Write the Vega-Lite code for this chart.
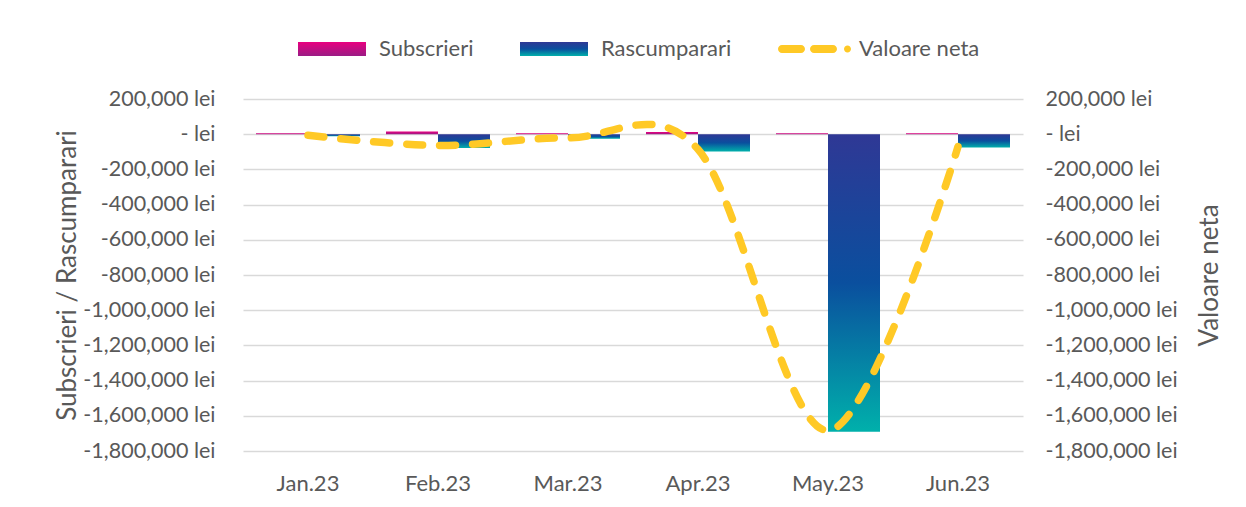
{
  "$schema": "https://vega.github.io/schema/vega-lite/v6.json",
  "width": 780,
  "height": 352,
  "autosize": {"type": "none"},
  "padding": {"left": 243, "top": 99, "right": 223, "bottom": 56},
  "background": "white",
  "config": {
    "view": {"stroke": null},
    "font": "Lato",
    "axis": {"labelFont": "Lato", "titleFont": "Lato"}
  },
  "data": {
    "values": [
      {"month": "Jan.23", "series": "Subscrieri", "value": 6000},
      {"month": "Jan.23", "series": "Rascumparari", "value": -12000},
      {"month": "Jan.23", "series": "Valoare neta", "value": -6000},
      {"month": "Feb.23", "series": "Subscrieri", "value": 15000},
      {"month": "Feb.23", "series": "Rascumparari", "value": -79000},
      {"month": "Feb.23", "series": "Valoare neta", "value": -64000},
      {"month": "Mar.23", "series": "Subscrieri", "value": 5000},
      {"month": "Mar.23", "series": "Rascumparari", "value": -26000},
      {"month": "Mar.23", "series": "Valoare neta", "value": -21000},
      {"month": "Apr.23", "series": "Subscrieri", "value": 12000},
      {"month": "Apr.23", "series": "Rascumparari", "value": -98000},
      {"month": "Apr.23", "series": "Valoare neta", "value": -86000},
      {"month": "May.23", "series": "Subscrieri", "value": 6000},
      {"month": "May.23", "series": "Rascumparari", "value": -1690000},
      {"month": "May.23", "series": "Valoare neta", "value": -1684000},
      {"month": "Jun.23", "series": "Subscrieri", "value": 5000},
      {"month": "Jun.23", "series": "Rascumparari", "value": -76000},
      {"month": "Jun.23", "series": "Valoare neta", "value": -71000}
    ]
  },
  "encoding": {
    "x": {
      "field": "month",
      "type": "nominal",
      "sort": null,
      "scale": {"paddingInner": 0.2, "paddingOuter": 0.1},
      "axis": {
        "title": null,
        "labelAngle": 0,
        "domain": false,
        "ticks": false,
        "grid": false,
        "labelPadding": 22,
        "labelFontSize": 22,
        "labelColor": "#595959"
      }
    }
  },
  "layer": [
    {
      "encoding": {
        "xOffset": {
          "field": "series",
          "type": "nominal",
          "scale": {"domain": ["Subscrieri", "Rascumparari"], "paddingInner": 0, "paddingOuter": 0}
        },
        "y": {
          "field": "value",
          "type": "quantitative",
          "scale": {"domain": [-1800000, 200000], "nice": false, "zero": false},
          "axis": {
            "orient": "left",
            "values": [200000, 0, -200000, -400000, -600000, -800000, -1000000, -1200000, -1400000, -1600000, -1800000],
            "labelExpr": "datum.value == 0 ? '- lei' : replace(format(datum.value, ','), '\u2212', '-') + ' lei'",
            "title": "Subscrieri / Rascumparari",
            "grid": true,
            "gridColor": "#d9d9d9",
            "gridWidth": 1.3,
            "domain": false,
            "ticks": false,
            "labelPadding": 28,
            "labelFontSize": 21.5,
            "labelColor": "#595959",
            "titleFontSize": 26,
            "titleFontWeight": "normal",
            "titleColor": "#595959",
            "titlePadding": 2
          }
        }
      },
      "layer": [
        {
          "transform": [{"filter": "datum.series === 'Subscrieri'"}],
          "mark": {
            "type": "bar",
            "fill": {"gradient": "linear", "x1": 0, "y1": 0, "x2": 0, "y2": 1, "stops": [{"offset": 0, "color": "#e8007f"}, {"offset": 1, "color": "#9a1c85"}]}
          }
        },
        {
          "transform": [{"filter": "datum.series === 'Rascumparari'"}],
          "mark": {
            "type": "bar",
            "fill": {"gradient": "linear", "x1": 0, "y1": 0, "x2": 0, "y2": 1, "stops": [{"offset": 0, "color": "#2f3895"}, {"offset": 0.5, "color": "#0a4f9e"}, {"offset": 1, "color": "#00b0ab"}]}
          }
        }
      ]
    },
    {
      "transform": [{"filter": "datum.series === 'Valoare neta'"}],
      "mark": {"type": "line", "interpolate": "cardinal", "tension": 0, "strokeWidth": 7.5, "strokeCap": "round", "strokeDash": [16, 17]},
      "encoding": {
        "y": {
          "field": "value",
          "type": "quantitative",
          "scale": {"domain": [-1800000, 200000], "nice": false, "zero": false},
          "axis": {
            "orient": "right",
            "values": [200000, 0, -200000, -400000, -600000, -800000, -1000000, -1200000, -1400000, -1600000, -1800000],
            "labelExpr": "datum.value == 0 ? '- lei' : replace(format(datum.value, ','), '\u2212', '-') + ' lei'",
            "title": "Valoare neta",
            "titleAngle": 270,
            "grid": false,
            "domain": false,
            "ticks": false,
            "labelPadding": 22,
            "labelFontSize": 21.5,
            "labelColor": "#595959",
            "titleFontSize": 26,
            "titleFontWeight": "normal",
            "titleColor": "#595959",
            "titlePadding": 45
          }
        },
        "color": {
          "field": "series",
          "type": "nominal",
          "scale": {
            "domain": ["Subscrieri", "Rascumparari", "Valoare neta"],
            "range": ["#e8007f", "#2f3895", "#ffc926"]
          },
          "legend": {
            "orient": "none",
            "legendX": 51,
            "legendY": -61,
            "direction": "horizontal",
            "title": null,
            "padding": 0,
            "symbolSize": 196,
            "labelOffset": 63,
            "columnPadding": 42,
            "labelFont": "Lato",
            "labelFontSize": 22,
            "labelColor": "#595959",
            "symbolStrokeWidth": 0,
            "encode": {
              "symbols": {
                "update": {
                  "shape": [
                    {"test": "datum.value === 'Valoare neta'", "value": "M-0.429,-0.571H2.286A0.571,0.571 0 0 1 2.286,0.571H-0.429A0.571,0.571 0 0 1 -0.429,-0.571ZM4.143,-0.571H6.857A0.571,0.571 0 0 1 6.857,0.571H4.143A0.571,0.571 0 0 1 4.143,-0.571ZM8.429,0A0.5,0.5 0 1 0 9.429,0A0.5,0.5 0 1 0 8.429,0Z"},
                    {"value": "M-1,-1H8.714V1H-1Z"}
                  ],
                  "fill": [
                    {"test": "datum.value === 'Subscrieri'", "value": {"gradient": "linear", "x1": 0, "y1": 0, "x2": 0, "y2": 1, "stops": [{"offset": 0, "color": "#e8007f"}, {"offset": 1, "color": "#9a1c85"}]}},
                    {"test": "datum.value === 'Rascumparari'", "value": {"gradient": "linear", "x1": 0, "y1": 0, "x2": 0, "y2": 1, "stops": [{"offset": 0, "color": "#2f3895"}, {"offset": 0.5, "color": "#0a4f9e"}, {"offset": 1, "color": "#00b0ab"}]}},
                    {"value": "#ffc926"}
                  ],
                  "stroke": {"value": "transparent"},
                  "strokeDash": {"value": []},
                  "opacity": {"value": 1}
                }
              }
            }
          }
        }
      }
    }
  ],
  "resolve": {"scale": {"y": "independent"}}
}
